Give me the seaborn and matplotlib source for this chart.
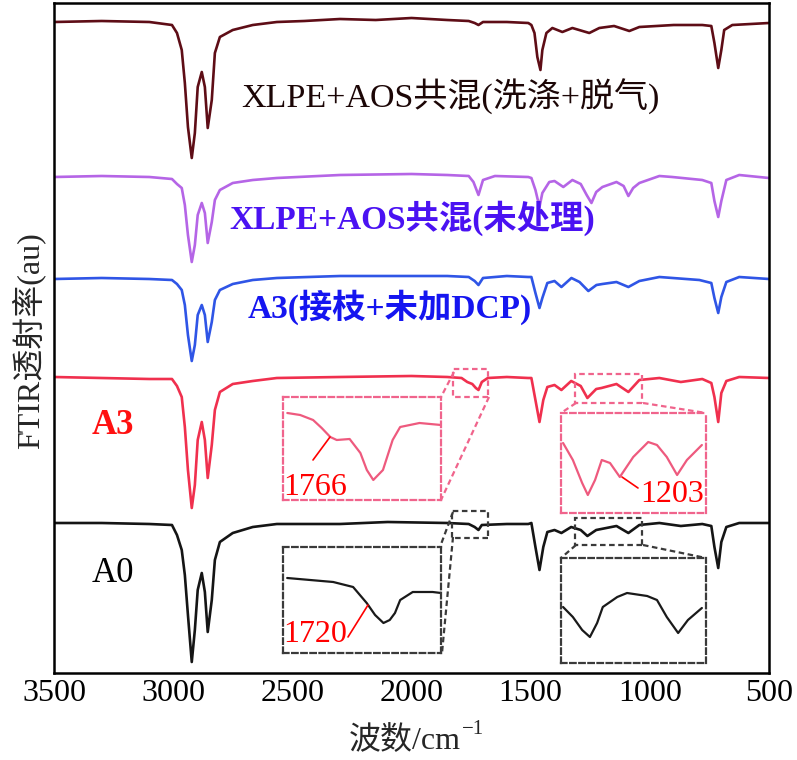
import numpy as np
import pandas as pd
import matplotlib
matplotlib.use("Agg")
import matplotlib.pyplot as plt
from matplotlib.patches import Rectangle
from matplotlib.lines import Line2D
import seaborn as sns

sns.set_theme(style="white")
plt.rcParams["font.family"] = ["Liberation Serif", "Noto Sans CJK SC", "DejaVu Sans"]

# ---------------- data (wavenumber cm-1, transmittance au, offset-stacked) ----------------
brown_wn = [3500, 3300, 3100, 3005, 2984, 2964, 2951, 2938, 2922, 2909, 2897, 2880, 2867, 2855, 2838, 2825,
            2804, 2750, 2666, 2565, 2450, 2300, 2150, 2000, 1850, 1760, 1735, 1719, 1700, 1600, 1510, 1497,
            1484, 1472, 1459, 1451, 1434, 1409, 1367, 1325, 1254, 1212, 1150, 1086, 1044, 900, 780, 742,
            729, 713, 700, 688, 654, 500]
brown_t = [6.51, 6.52, 6.51, 6.48, 6.40, 6.23, 5.90, 5.46, 5.15, 5.40, 5.86, 6.01, 5.86, 5.45, 5.73, 6.20,
           6.36, 6.43, 6.48, 6.51, 6.52, 6.54, 6.53, 6.55, 6.53, 6.52, 6.50, 6.48, 6.51, 6.51, 6.50, 6.48,
           6.40, 6.16, 6.03, 6.23, 6.40, 6.45, 6.41, 6.45, 6.40, 6.45, 6.47, 6.42, 6.46, 6.48, 6.48, 6.47,
           6.30, 6.05, 6.23, 6.43, 6.48, 6.50]

purple_wn = [3500, 3300, 3100, 3005, 2984, 2964, 2951, 2938, 2922, 2909, 2897, 2880, 2867, 2855, 2838, 2825,
             2804, 2750, 2666, 2565, 2300, 2000, 1850, 1760, 1740, 1719, 1700, 1650, 1510, 1497, 1480, 1463,
             1451, 1422, 1400, 1363, 1325, 1290, 1265, 1245, 1225, 1199, 1140, 1110, 1090, 1070, 1044, 960,
             906, 780, 742, 729, 713, 700, 679, 625, 500]
purple_t = [4.96, 4.97, 4.96, 4.94, 4.89, 4.85, 4.68, 4.38, 4.11, 4.28, 4.58, 4.70, 4.60, 4.30, 4.51, 4.73,
            4.83, 4.90, 4.93, 4.95, 4.98, 4.99, 4.98, 4.97, 4.91, 4.78, 4.93, 4.97, 4.96, 4.95, 4.83, 4.66,
            4.80, 4.91, 4.92, 4.86, 4.93, 4.89, 4.78, 4.70, 4.81, 4.86, 4.91, 4.87, 4.77, 4.85, 4.90, 4.97,
            4.96, 4.93, 4.90, 4.72, 4.56, 4.72, 4.93, 4.98, 4.95]

blue_wn = [3500, 3300, 3100, 3005, 2984, 2964, 2951, 2938, 2922, 2909, 2897, 2880, 2867, 2855, 2838, 2825,
           2804, 2750, 2666, 2565, 2300, 2000, 1850, 1760, 1735, 1719, 1700, 1600, 1510, 1497, 1480, 1463,
           1451, 1430, 1400, 1371, 1329, 1295, 1258, 1224, 1199, 1140, 1090, 1044, 960, 792, 742, 729,
           713, 700, 679, 625, 500]
blue_t = [3.94, 3.95, 3.94, 3.93, 3.89, 3.83, 3.68, 3.38, 3.12, 3.28, 3.58, 3.68, 3.58, 3.31, 3.51, 3.73,
          3.83, 3.89, 3.93, 3.95, 3.97, 3.97, 3.97, 3.96, 3.92, 3.88, 3.95, 3.97, 3.96, 3.96, 3.80, 3.65,
          3.75, 3.90, 3.92, 3.86, 3.95, 3.91, 3.82, 3.88, 3.89, 3.91, 3.86, 3.92, 3.96, 3.93, 3.90, 3.75,
          3.60, 3.76, 3.91, 3.96, 3.94]

red_wn = [3500, 3300, 3100, 3005, 2984, 2964, 2951, 2938, 2922, 2909, 2897, 2880, 2867, 2855, 2838, 2825,
          2804, 2750, 2666, 2565, 2300, 2000, 1850, 1790, 1766, 1745, 1730, 1719, 1705, 1680, 1600, 1510,
          1497, 1480, 1463, 1447, 1430, 1400, 1371, 1330, 1290, 1262, 1225, 1203, 1140, 1090, 1044, 960,
          870, 780, 742, 729, 713, 700, 679, 625, 500]
red_t = [2.96, 2.95, 2.94, 2.94, 2.87, 2.76, 2.46, 2.03, 1.65, 1.88, 2.33, 2.51, 2.33, 1.95, 2.28, 2.63,
         2.81, 2.89, 2.92, 2.95, 2.96, 2.97, 2.96, 2.95, 2.91, 2.89, 2.85, 2.83, 2.91, 2.95, 2.96, 2.95,
         2.95, 2.73, 2.51, 2.73, 2.86, 2.88, 2.83, 2.92, 2.87, 2.75, 2.84, 2.85, 2.89, 2.81, 2.93, 2.95,
         2.91, 2.94, 2.90, 2.76, 2.51, 2.80, 2.92, 2.96, 2.95]

black_wn = [3500, 3300, 3100, 3005, 2984, 2964, 2951, 2938, 2922, 2909, 2897, 2880, 2867, 2855, 2838, 2825,
            2804, 2750, 2666, 2565, 2300, 2100, 1850, 1760, 1735, 1719, 1705, 1600, 1510, 1497, 1480, 1463,
            1447, 1430, 1400, 1371, 1330, 1290, 1262, 1225, 1140, 1090, 1044, 960, 870, 780, 742, 729,
            713, 700, 679, 625, 500]
black_t = [1.50, 1.50, 1.49, 1.48, 1.38, 1.23, 0.98, 0.58, 0.11, 0.43, 0.83, 1.00, 0.81, 0.41, 0.73, 1.13,
           1.31, 1.40, 1.46, 1.49, 1.49, 1.51, 1.50, 1.49, 1.46, 1.43, 1.48, 1.49, 1.49, 1.50, 1.26, 1.03,
           1.26, 1.41, 1.43, 1.40, 1.46, 1.43, 1.37, 1.43, 1.47, 1.40, 1.48, 1.50, 1.47, 1.49, 1.47, 1.26,
           1.05, 1.31, 1.46, 1.50, 1.50]

series_names = ["XLPE+AOS共混(洗涤+脱气)", "XLPE+AOS共混(未处理)", "A3(接枝+未加DCP)", "A3", "A0"]
series_wn = [brown_wn, purple_wn, blue_wn, red_wn, black_wn]
series_t = [brown_t, purple_t, blue_t, red_t, black_t]
line_colors = ["#5e0d16", "#b565e6", "#2f55e6", "#f0304e", "#151515"]

# zoomed insets: curves over the source wavenumber window
inset_red_left_wn = [1820, 1808, 1796, 1788, 1780, 1774, 1762, 1752, 1746, 1740, 1731, 1722, 1715, 1697, 1677]
inset_red_left_t = [0.87, 0.85, 0.80, 0.72, 0.63, 0.60, 0.61, 0.47, 0.30, 0.20, 0.30, 0.60, 0.73, 0.77, 0.75]
inset_black_left_wn = [1824, 1802, 1780, 1761, 1748, 1740, 1732, 1726, 1721, 1716, 1704, 1685, 1677]
inset_black_left_t = [0.75, 0.73, 0.71, 0.66, 0.50, 0.38, 0.30, 0.33, 0.40, 0.53, 0.61, 0.61, 0.60]
inset_red_right_wn = [1308, 1289, 1271, 1260, 1246, 1233, 1217, 1198, 1172, 1143, 1126, 1107, 1087, 1068, 1039]
inset_red_right_t = [0.70, 0.53, 0.30, 0.18, 0.33, 0.53, 0.50, 0.36, 0.56, 0.71, 0.68, 0.56, 0.38, 0.53, 0.68]
inset_black_right_wn = [1308, 1289, 1271, 1256, 1242, 1231, 1203, 1184, 1145, 1126, 1107, 1085, 1066, 1039]
inset_black_right_t = [0.56, 0.46, 0.33, 0.26, 0.40, 0.56, 0.66, 0.70, 0.67, 0.63, 0.46, 0.30, 0.43, 0.55]

peak_labels = ["1766", "1720", "1203"]
x_ticks = [3500, 3000, 2500, 2000, 1500, 1000, 500]

# ---------------- figure ----------------
W, H = 797, 760
fig = plt.figure(figsize=(W / 100, H / 100), dpi=100)
fig.patch.set_facecolor("white")


def fx(px):
    return px / W


def fy(py):
    return 1 - py / H


ax = fig.add_axes([fx(54), fy(673), fx(769) - fx(54), fy(3) - fy(673)])
ax.set_facecolor("white")

frames = []
for name, wn, t in zip(series_names, series_wn, series_t):
    frames.append(pd.DataFrame({"wn": wn, "t": t, "sample": name}))
df = pd.concat(frames, ignore_index=True)
sns.lineplot(data=df, x="wn", y="t", hue="sample", palette=dict(zip(series_names, line_colors)),
             estimator=None, sort=False, linewidth=1.9, legend=False, ax=ax,
             solid_joinstyle="round", solid_capstyle="round")

ax.set_xlim(3500, 500)
ax.set_ylim(0, 6.70)
ax.set_xticks(x_ticks)
ax.set_xticklabels([str(v) for v in x_ticks], fontsize=23)
ax.set_yticks([])
ax.tick_params(axis="x", direction="in", length=12, width=1.5, pad=4, colors="black")
for s in ax.spines.values():
    s.set_linewidth(1.8)
    s.set_color("black")
ax.set_xlabel("")
ax.set_ylabel("")

# axis titles
fig.text(fx(461), fy(741), "波数/cm", ha="right", va="center", fontsize=23)
fig.text(fx(462), fy(729), "−1", ha="left", va="center", fontsize=15)
fig.text(fx(28), fy(341), "FTIR透射率(au)", ha="center", va="center", rotation=90, fontsize=23)

# curve labels
fig.text(fx(450), fy(97), series_names[0], ha="center", va="center", fontsize=24.5, color="#1c0606")
fig.text(fx(412), fy(218), series_names[1], ha="center", va="center", fontsize=24, color="#4a12f2",
         fontweight="bold")
fig.text(fx(390), fy(307), series_names[2], ha="center", va="center", fontsize=24, color="#1515f0",
         fontweight="bold")
fig.text(fx(113), fy(425), series_names[3], ha="center", va="center", fontsize=25, color="#ff1010",
         fontweight="bold")
fig.text(fx(113), fy(573), series_names[4], ha="center", va="center", fontsize=25, color="black")

# source boxes on main axes
red_box_col = "#f0648c"
blk_box_col = "#3a3a3a"
dash = (0, (2.5, 1.6))
src_boxes = [((1824, 1677), (2.76, 3.04), red_box_col),
             ((1828, 1677), (1.35, 1.62), blk_box_col),
             ((1312, 1031), (2.70, 2.99), red_box_col),
             ((1312, 1031), (1.28, 1.55), blk_box_col)]
for (x0, x1), (y0, y1), c in src_boxes:
    ax.add_patch(Rectangle((x1, y0), x0 - x1, y1 - y0, fill=False, edgecolor=c, linewidth=1.6,
                           linestyle=dash, zorder=4))

# inset axes
insets = [((283, 397, 441, 500), (1824, 1677), inset_red_left_wn, inset_red_left_t, "#ee5a7e", red_box_col),
          ((283, 547, 441, 653), (1828, 1677), inset_black_left_wn, inset_black_left_t, "#1a1a1a", blk_box_col),
          ((561, 413, 706, 513), (1312, 1031), inset_red_right_wn, inset_red_right_t, "#ee5a7e", red_box_col),
          ((561, 558, 706, 663), (1312, 1031), inset_black_right_wn, inset_black_right_t, "#1a1a1a", blk_box_col)]
for (l, t, r, b), xl, iwn, it, lc, bc in insets:
    iax = fig.add_axes([fx(l), fy(b), fx(r) - fx(l), fy(t) - fy(b)])
    iax.patch.set_alpha(0)
    sns.lineplot(x=iwn, y=it, color=lc, linewidth=1.6, estimator=None, sort=False, ax=iax,
                 solid_joinstyle="round", solid_capstyle="round")
    iax.set_xlim(*xl)
    iax.set_ylim(0, (b - t) / 100)
    iax.set_xticks([])
    iax.set_yticks([])
    for s in iax.spines.values():
        s.set_linestyle(dash)
        s.set_linewidth(1.6)
        s.set_edgecolor(bc)

# connector lines (figure pixels)
connectors = [((454, 372), (441, 397), red_box_col), ((489, 397), (441, 500), red_box_col),
              ((453, 512), (440, 547), blk_box_col), ((453, 537), (442, 653), blk_box_col),
              ((576, 403), (561, 413), red_box_col), ((643, 403), (706, 413), red_box_col),
              ((576, 545), (561, 558), blk_box_col), ((643, 545), (706, 558), blk_box_col)]
for (x0, y0), (x1, y1), c in connectors:
    fig.add_artist(Line2D([fx(x0), fx(x1)], [fy(y0), fy(y1)], color=c, linewidth=1.6, linestyle=dash))

# peak labels and pointer lines
fig.text(fx(315), fy(487), peak_labels[0], ha="center", va="center", fontsize=23, color="#ff0000")
fig.add_artist(Line2D([fx(313), fx(330)], [fy(460), fy(437)], color="#ff0000", linewidth=1.2))
fig.text(fx(315), fy(635), peak_labels[1], ha="center", va="center", fontsize=23, color="#ff0000")
fig.add_artist(Line2D([fx(348), fx(368)], [fy(637), fy(605)], color="#ff0000", linewidth=1.2))
fig.text(fx(672), fy(495), peak_labels[2], ha="center", va="center", fontsize=23, color="#ff0000")
fig.add_artist(Line2D([fx(622), fx(638)], [fy(477), fy(488)], color="#ff0000", linewidth=1.2))

fig.savefig("out.png", dpi=100, facecolor="white")
